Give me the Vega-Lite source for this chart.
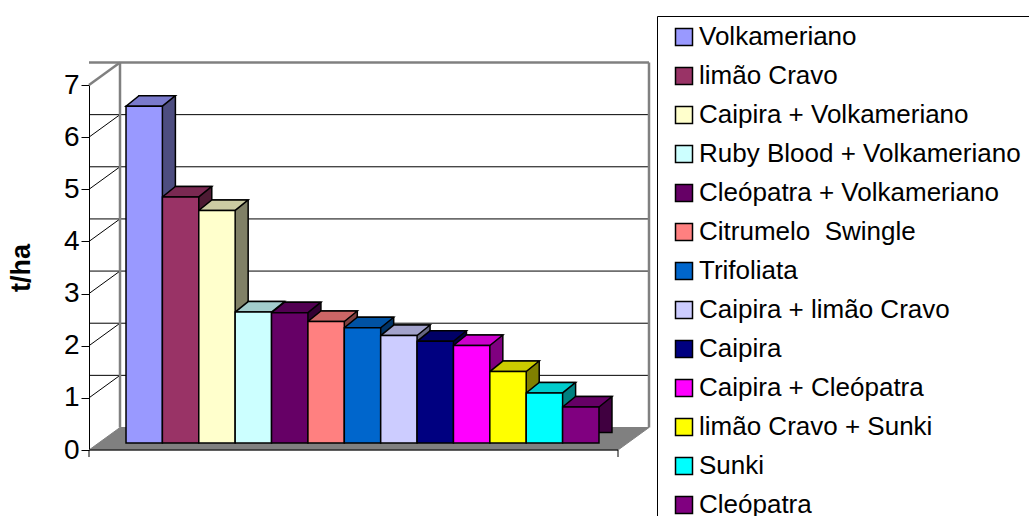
{
  "$schema": "https://vega.github.io/schema/vega-lite/v6.json",
  "width": 529,
  "height": 365,
  "autosize": {"type": "none"},
  "padding": {"left": 89, "top": 85, "right": 411, "bottom": 66},
  "background": "white",
  "config": {
    "view": {"stroke": null},
    "font": "Liberation Sans",
    "axisY": {"titleFont": "Liberation Sans", "titleFontSize": 27, "titleFontWeight": "bold", "titleColor": "black", "titlePadding": 28,
      "labelFont": "Liberation Sans", "labelFontSize": 28, "labelColor": "black", "labelPadding": 2, "tickColor": "black", "tickSize": 8,
      "domainColor": "black", "grid": false, "labelFlush": false, "labelOverlap": false}
  },
  "datasets": {
    "bars": [
      {"rootstock": "Volkameriano", "t_ha": 6.46},
      {"rootstock": "limão Cravo", "t_ha": 4.72},
      {"rootstock": "Caipira + Volkameriano", "t_ha": 4.46},
      {"rootstock": "Ruby Blood + Volkameriano", "t_ha": 2.51},
      {"rootstock": "Cleópatra + Volkameriano", "t_ha": 2.5},
      {"rootstock": "Citrumelo  Swingle", "t_ha": 2.33},
      {"rootstock": "Trifoliata", "t_ha": 2.21},
      {"rootstock": "Caipira + limão Cravo", "t_ha": 2.06},
      {"rootstock": "Caipira", "t_ha": 1.95},
      {"rootstock": "Caipira + Cleópatra", "t_ha": 1.87},
      {"rootstock": "limão Cravo + Sunki", "t_ha": 1.37},
      {"rootstock": "Sunki", "t_ha": 0.96},
      {"rootstock": "Cleópatra", "t_ha": 0.69}
    ],
    "grid": [{"v": 1}, {"v": 2}, {"v": 3}, {"v": 4}, {"v": 5}, {"v": 6}],
    "base": [{"v": 0}],
    "topv": [{"v": 7}],
    "span": [{"v0": 0, "v1": 7}]
  },
  "layer": [
    {
      "data": {"name": "base"},
      "mark": {"type": "point", "shape": "M-26.45,0L-23.35,-2.25L29.55,-2.25L26.45,0Z", "size": 400, "filled": true, "fill": "#808080", "stroke": "#808080", "strokeWidth": 1, "opacity": 1},
      "encoding": {"y": {"field": "v", "type": "quantitative", "title": "t/ha", "scale": {"domain": [0, 7], "nice": false},
        "axis": {"title": "t/ha", "format": "d", "labelFontSize": 28, "labelFont": "Liberation Sans", "labelColor": "black", "labelPadding": 2,
          "labelOverlap": false, "labelFlush": false,
          "titleFontSize": 27, "titleFontWeight": "bold", "titlePadding": 28, "tickSize": 8, "tickColor": "black", "domainColor": "black",
          "values": [0, 1, 2, 3, 4, 5, 6, 7], "grid": false}}}
    },
    {
      "data": {"name": "grid"},
      "mark": {"type": "rule", "color": "black", "strokeWidth": 1, "xOffset": 31, "x2Offset": 31, "yOffset": -22.5},
      "encoding": {"y": {"field": "v", "type": "quantitative", "title": "t/ha"}}
    },
    {
      "data": {"name": "grid"},
      "mark": {"type": "point", "shape": "M-26.45,0L-23.35,-2.25", "size": 400, "filled": false, "stroke": "black", "strokeWidth": 1, "opacity": 1},
      "encoding": {"y": {"field": "v", "type": "quantitative", "title": "t/ha"}}
    },
    {
      "data": {"name": "topv"},
      "mark": {"type": "rule", "color": "#808080", "strokeWidth": 2.5, "xOffset": 31, "x2Offset": 31, "yOffset": -22.5},
      "encoding": {"y": {"field": "v", "type": "quantitative", "title": "t/ha"}}
    },
    {
      "data": {"name": "topv"},
      "mark": {"type": "point", "shape": "M-26.45,0L-23.35,-2.25", "size": 400, "filled": false, "stroke": "#808080", "strokeWidth": 2.5, "opacity": 1},
      "encoding": {"y": {"field": "v", "type": "quantitative", "title": "t/ha"}}
    },
    {
      "data": {"name": "span"},
      "mark": {"type": "rule", "color": "#808080", "strokeWidth": 2.5, "xOffset": -233.5, "yOffset": -22.5, "y2Offset": -22.5},
      "encoding": {"y": {"field": "v0", "type": "quantitative", "title": "t/ha"}, "y2": {"field": "v1"}}
    },
    {
      "data": {"name": "span"},
      "mark": {"type": "rule", "color": "#808080", "strokeWidth": 2.5, "xOffset": 295.5, "yOffset": -22.5, "y2Offset": -22.5},
      "encoding": {"y": {"field": "v0", "type": "quantitative", "title": "t/ha"}, "y2": {"field": "v1"}}
    },
    {
      "data": {"name": "base"},
      "mark": {"type": "rule", "color": "black", "strokeWidth": 1},
      "encoding": {"y": {"field": "v", "type": "quantitative", "title": "t/ha"}}
    },
    {
      "data": {"name": "base"},
      "mark": {"type": "point", "shape": "M-26.45,0L-26.45,0.7M26.45,0L26.45,0.7", "size": 400, "filled": false, "stroke": "black", "strokeWidth": 1, "opacity": 1},
      "encoding": {"y": {"field": "v", "type": "quantitative", "title": "t/ha"}}
    },
    {
      "data": {"name": "bars"},
      "mark": {"type": "bar", "stroke": "black", "strokeWidth": 1.5, "xOffset": 22, "yOffset": -17.5, "y2Offset": -17.5},
      "encoding": {
        "x": {"field": "rootstock", "type": "nominal", "sort": null, "axis": null, "scale": {"paddingInner": 0, "paddingOuter": 0.77}},
        "y": {"field": "t_ha", "type": "quantitative", "title": "t/ha"},
        "color": {"field": "rootstock", "type": "nominal", "sort": null, "legend": null,
          "scale": {"range": ["#4D4D80", "#4D1A33", "#808066", "#668080", "#330033", "#804040", "#003366", "#666680", "#000040", "#800080", "#808000", "#008080", "#400040"]}}
      }
    },
    {
      "data": {"name": "bars"},
      "mark": {"type": "point", "shape": "M-1.819,0L1.819,0L3.119,-1.05L-0.519,-1.05Z", "size": 400, "filled": true, "stroke": "black", "strokeWidth": 1.5, "opacity": 1, "xOffset": 9, "yOffset": -7},
      "encoding": {
        "x": {"field": "rootstock", "type": "nominal", "sort": null, "axis": null, "scale": {"paddingInner": 0, "paddingOuter": 0.77}},
        "y": {"field": "t_ha", "type": "quantitative", "title": "t/ha"},
        "color": {"field": "rootstock", "type": "nominal", "sort": null, "legend": null,
          "scale": {"range": ["#7A7ACC", "#7A2952", "#CCCCA3", "#A3CCCC", "#520052", "#CC6666", "#0052A3", "#A3A3CC", "#000066", "#CC00CC", "#CCCC00", "#00CCCC", "#660066"]}}
      }
    },
    {
      "data": {"name": "bars"},
      "mark": {"type": "bar", "stroke": "black", "strokeWidth": 1.5, "xOffset": 9, "yOffset": -7, "y2Offset": -7},
      "encoding": {
        "x": {"field": "rootstock", "type": "nominal", "sort": null, "axis": null, "scale": {"paddingInner": 0, "paddingOuter": 0.77}},
        "y": {"field": "t_ha", "type": "quantitative", "title": "t/ha"},
        "color": {"field": "rootstock", "type": "nominal", "sort": null,
          "scale": {"range": ["#9999FF", "#993366", "#FFFFCC", "#CCFFFF", "#660066", "#FF8080", "#0066CC", "#CCCCFF", "#000080", "#FF00FF", "#FFFF00", "#00FFFF", "#800080"]},
          "legend": {"orient": "none", "legendX": 568, "legendY": -69, "title": null, "symbolType": "square", "symbolSize": 289,
            "symbolStrokeColor": "black", "symbolStrokeWidth": 1.5, "labelFontSize": 26, "labelFont": "Liberation Sans", "labelColor": "black",
            "labelLimit": 500, "labelOffset": 2, "rowPadding": 13, "padding": 8, "strokeColor": "black", "fillColor": "white", "symbolOffset": 6,
            "labelExpr": "replace(datum.label, '  ', '\u00a0 ')"}}
      }
    }
  ],
  "resolve": {"scale": {"color": "independent"}}
}
